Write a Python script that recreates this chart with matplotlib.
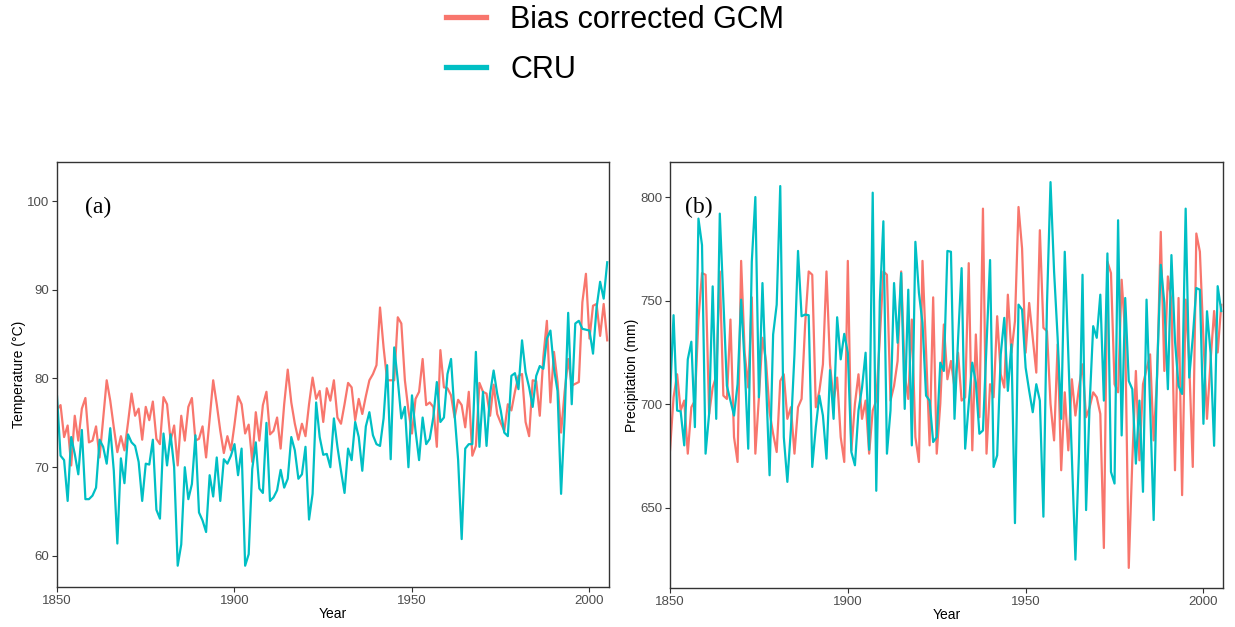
import matplotlib.pyplot as plt
from matplotlib.lines import Line2D

plt.rcParams['font.family'] = ['Liberation Sans', 'DejaVu Sans']

# years shown on both panels
years = list(range(1850, 2006))

# (a) temperature
gcm_temp = [
    76.5, 77.0, 73.4, 74.7, 70.2, 75.8, 73.0, 76.6, 77.8, 72.8,
    73.0, 74.6, 71.1, 75.5, 79.8, 77.5, 74.5, 71.7, 73.5, 71.9,
    75.0, 78.3, 75.8, 76.6, 73.1, 76.8, 75.3, 77.4, 73.2, 72.6,
    77.9, 77.1, 73.0, 74.7, 70.2, 75.8, 73.0, 76.8, 77.8, 73.0,
    73.2, 74.6, 71.1, 75.5, 79.8, 77.1, 74.1, 71.6, 73.5, 71.9,
    74.8, 78.0, 77.1, 73.8, 74.8, 70.6, 76.2, 73.0, 77.0, 78.5,
    73.7, 74.1, 75.6, 72.1, 77.1, 81.0, 77.3, 74.9, 73.1, 74.9,
    73.5, 77.1, 80.1, 77.7, 78.6, 75.1, 78.9, 77.5, 79.8, 75.6,
    74.9, 77.1, 79.5, 79.0, 75.3, 77.7, 76.0, 78.0, 79.8, 80.5,
    81.5, 88.0, 83.5, 79.8, 79.8, 79.8, 86.9, 86.2, 79.8, 76.4,
    73.8, 77.7, 78.5, 82.2, 77.0, 77.3, 76.8, 72.3, 83.2, 79.0,
    78.9, 78.1, 75.6, 77.6, 77.0, 74.5, 78.5, 71.3, 72.4, 79.5,
    78.5, 78.3, 75.8, 79.3, 76.0, 75.0, 74.1, 77.1, 76.4, 78.5,
    80.3, 80.5, 75.1, 73.5, 79.8, 79.7, 75.8, 82.4, 86.5, 77.3,
    83.0, 79.6, 73.9, 78.5, 82.2, 79.2, 79.4, 79.6, 88.6, 91.8,
    84.5, 88.2, 88.4, 84.8, 88.4, 84.3,
]
cru_temp = [
    78.0, 71.3, 70.8, 66.2, 73.4, 71.5, 69.2, 74.2, 66.4, 66.4,
    66.8, 67.7, 73.1, 72.3, 70.4, 74.4, 69.6, 61.4, 71.0, 68.2,
    73.7, 72.8, 72.4, 70.6, 66.2, 70.4, 70.3, 73.1, 65.2, 64.2,
    73.8, 70.2, 73.7, 70.0, 58.9, 61.3, 70.0, 66.4, 68.1, 73.6,
    64.9, 64.0, 62.7, 69.1, 66.7, 71.1, 66.2, 70.9, 70.4, 71.3,
    72.6, 69.1, 72.1, 58.9, 60.2, 69.8, 72.8, 67.6, 67.1, 75.0,
    66.2, 66.6, 67.4, 69.7, 67.7, 68.7, 73.4, 71.9, 68.7, 69.2,
    72.3, 64.1, 67.0, 77.3, 73.4, 71.4, 71.5, 70.0, 75.5, 72.3,
    69.6, 67.1, 72.1, 70.8, 75.1, 73.4, 69.6, 74.6, 76.2, 73.6,
    72.6, 72.4, 75.5, 81.5, 70.9, 83.5, 79.8, 75.5, 76.8, 70.0,
    78.1, 74.1, 70.8, 75.6, 72.6, 73.2, 75.6, 79.6, 75.1, 75.6,
    80.5, 82.2, 76.0, 70.8, 61.9, 72.1, 72.6, 72.6, 83.0, 72.3,
    78.5, 72.4, 78.3, 80.9, 78.3, 76.4, 73.9, 73.5, 80.3, 80.6,
    78.8, 84.3, 80.7, 79.0, 76.8, 80.3, 81.4, 81.1, 84.5, 85.4,
    81.1, 78.6, 67.0, 75.6, 87.4, 77.1, 86.2, 86.5, 85.6, 85.5,
    85.4, 82.8, 88.0, 90.9, 89.0, 93.1,
]

# (b) precipitation
gcm_prec = [
    677.8, 703.4, 714.5, 697.0, 701.8, 676.2, 698.6, 701.8, 740.9, 763.3,
    762.5, 695.4, 708.1, 713.7, 764.1, 704.2, 702.6, 740.9, 684.2, 672.2,
    769.2, 724.9, 708.1, 751.6, 676.2, 703.4, 732.1, 720.9, 696.2, 685.8,
    677.0, 711.3, 714.5, 693.0, 698.6, 676.2, 698.6, 702.6, 738.5, 764.1,
    762.5, 698.6, 706.5, 719.3, 764.1, 719.3, 701.8, 712.9, 684.2, 672.2,
    769.2, 677.8, 700.2, 714.5, 693.0, 701.8, 676.2, 697.0, 701.8, 732.1,
    764.1, 762.5, 701.8, 708.9, 720.9, 764.1, 714.5, 702.6, 740.9, 684.2,
    672.2, 769.2, 725.7, 680.2, 751.6, 676.2, 700.2, 738.5, 712.1, 720.9,
    708.1, 724.9, 701.8, 703.4, 768.1, 677.8, 733.7, 693.8, 794.4, 676.2,
    709.7, 703.4, 742.5, 714.5, 708.1, 752.9, 724.9, 740.1, 795.2, 775.2,
    724.9, 748.9, 732.1, 715.3, 784.0, 736.9, 735.3, 700.2, 682.6, 728.9,
    668.2, 705.8, 677.8, 712.1, 694.6, 708.1, 719.3, 693.8, 698.6, 705.8,
    703.4, 695.4, 630.7, 768.8, 763.3, 709.7, 705.8, 760.1, 733.7, 621.1,
    673.0, 716.1, 673.0, 709.7, 716.9, 724.1, 682.6, 714.5, 783.2, 716.1,
    761.7, 749.7, 668.2, 751.3, 656.2, 750.5, 720.1, 669.8, 782.4, 773.6,
    731.3, 693.0, 720.9, 745.0, 725.0, 748.0,
]
cru_prec = [
    703.4, 743.0, 697.0, 696.6, 680.2, 721.7, 730.2, 689.0, 789.6, 776.8,
    676.2, 695.4, 756.9, 693.0, 792.0, 750.5, 708.9, 701.8, 694.6, 709.7,
    750.5, 719.3, 678.6, 768.8, 800.0, 703.4, 758.5, 711.3, 665.8, 733.7,
    748.1, 805.3, 684.2, 662.6, 688.2, 724.1, 774.0, 742.5, 743.3, 743.0,
    669.8, 689.0, 704.2, 694.6, 673.8, 716.5, 693.0, 742.0, 721.7, 734.0,
    724.9, 677.0, 670.6, 697.0, 708.1, 724.9, 678.1, 802.1, 658.3, 749.7,
    788.3, 676.2, 697.0, 758.5, 729.7, 763.3, 697.8, 755.3, 680.2, 778.4,
    753.7, 739.3, 704.2, 701.8, 681.8, 684.2, 720.1, 716.1, 774.0, 773.6,
    693.0, 731.3, 765.7, 678.6, 700.2, 720.1, 710.5, 685.8, 687.4, 728.9,
    769.6, 669.8, 675.4, 724.1, 741.7, 706.5, 728.9, 642.7, 748.1, 745.7,
    717.7, 706.5, 696.2, 709.7, 701.8, 645.8, 748.1, 807.2, 764.1, 732.1,
    693.0, 773.6, 724.1, 674.6, 625.1, 676.2, 762.5, 649.0, 700.2, 737.7,
    732.1, 752.9, 701.8, 772.8, 667.4, 661.8, 788.8, 685.0, 751.3, 711.3,
    707.3, 671.4, 701.8, 657.8, 750.5, 699.4, 644.2, 717.7, 767.3, 748.9,
    707.3, 772.0, 730.5, 708.9, 705.0, 794.4, 712.9, 732.1, 756.1, 755.3,
    690.6, 744.9, 724.9, 680.0, 757.0, 745.0,
]

series_labels = ['Bias corrected GCM', 'CRU']
series_colors = ['#F8766D', '#00BFC4']
x_ticks = [1850, 1900, 1950, 2000]

fig = plt.figure(figsize=(12.35, 6.27), dpi=100)
ax_a = fig.add_axes([57 / 1235, 1 - 587 / 627, 552 / 1235, 425 / 627])
ax_b = fig.add_axes([670 / 1235, 1 - 588 / 627, 553 / 1235, 426 / 627])

panels = [
    (ax_a, gcm_temp, cru_temp, 'Temperature (°C)', (56.5, 104.4), [60, 70, 80, 90, 100], '(a)', 0.074),
    (ax_b, gcm_prec, cru_prec, 'Precipitation (mm)', (611.4, 816.9), [650, 700, 750, 800], '(b)', 0.052),
]

for ax, gcm, cru, ylab, ylim, yticks, tag, tag_x in panels:
    ax.plot(years, gcm, color=series_colors[0], lw=1.6)
    ax.plot(years, cru, color=series_colors[1], lw=1.6)
    ax.set_xlim(1850, 2005.5)
    ax.set_ylim(*ylim)
    ax.set_xticks(x_ticks)
    ax.set_yticks(yticks)
    ax.set_xlabel('Year', fontsize=10, labelpad=0)
    ax.set_ylabel(ylab, fontsize=10, labelpad=1)
    ax.tick_params(length=3.5, width=0.8, color='#333333', labelcolor='#4D4D4D', labelsize=9.5, pad=2)
    for s in ax.spines.values():
        s.set_color('#333333')
        s.set_linewidth(1.0)
    ax.text(tag_x, 0.893, tag, transform=ax.transAxes, ha='center', va='center',
            fontsize=17, family='Liberation Serif')

handles = [Line2D([], [], color=c, lw=3.8) for c in series_colors]
fig.legend(handles, series_labels, loc='upper left', bbox_to_anchor=(446 / 1235, 1 - 5 / 627),
           frameon=False, fontsize=22, handlelength=1.3, handletextpad=0.8,
           labelspacing=0.65, borderpad=0, borderaxespad=0)

fig.savefig('out.png', dpi=100)
